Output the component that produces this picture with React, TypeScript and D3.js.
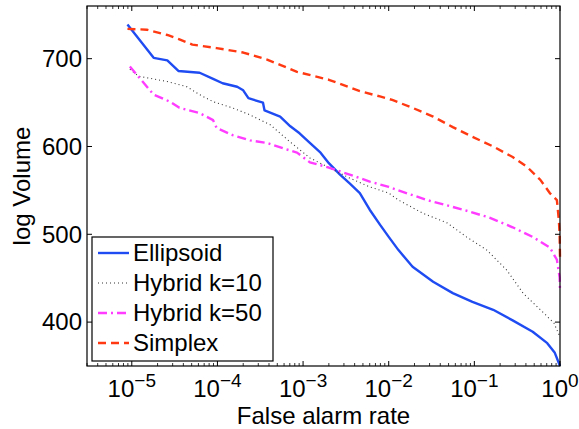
import * as d3 from 'd3';

const W = 579;
const H = 429;
const margin = { left: 87, right: 19, top: 6, bottom: 63 };

// false alarm rate vs log volume
const ellipsoidX = [8.9e-6, 1.8e-5, 2.6e-5, 3.5e-5, 6.2e-5, 8.9e-5, 1.15e-4, 1.7e-4, 2.0e-4, 2.3e-4, 3.4e-4, 3.55e-4, 5.4e-4, 7.1e-4, 9.1e-4, 1.2e-3, 1.6e-3, 2.0e-3, 2.7e-3, 3.5e-3, 4.6e-3, 6.0e-3, 7.9e-3, 0.010, 0.013, 0.019, 0.033, 0.056, 0.095, 0.166, 0.28, 0.48, 0.71, 0.87, 1];
const ellipsoidY = [739, 701, 698, 686, 684, 677, 672, 668, 664, 655, 650, 641, 634, 623, 615, 604, 593, 581, 568, 558, 547, 528, 511, 497, 482, 463, 446, 433, 423, 414, 402, 389, 376, 365, 350];

const hybrid10X = [9.5e-6, 1.2e-5, 2.6e-5, 4.4e-5, 6.2e-5, 8.9e-5, 1.5e-4, 2.4e-4, 4.1e-4, 7.1e-4, 1.2e-3, 2.0e-3, 3.5e-3, 6.0e-3, 0.010, 0.013, 0.025, 0.048, 0.081, 0.14, 0.24, 0.37, 0.59, 0.85, 1];
const hybrid10Y = [688, 680, 674, 668, 659, 651, 644, 636, 625, 605, 587, 576, 564, 554, 547, 539, 524, 513, 497, 482, 459, 433, 414, 399, 383];

const hybrid50X = [9.5e-6, 1.8e-5, 2.8e-5, 3.6e-5, 6.2e-5, 8.9e-5, 9.8e-5, 1.5e-4, 2.4e-4, 3.8e-4, 5.8e-4, 8.5e-4, 1.2e-3, 2.0e-3, 3.5e-3, 6.0e-3, 0.010, 0.013, 0.028, 0.074, 0.15, 0.28, 0.48, 0.76, 0.92, 0.99, 1];
const hybrid50Y = [691, 659, 651, 644, 638, 630, 621, 613, 607, 604, 598, 593, 582, 576, 568, 560, 554, 550, 539, 528, 519, 508, 497, 485, 471, 451, 436];

const simplexX = [8.9e-6, 1.5e-5, 2.6e-5, 3.6e-5, 5.1e-5, 9.8e-5, 2.0e-4, 3.8e-4, 5.4e-4, 8.5e-4, 2.0e-3, 4.6e-3, 7.9e-3, 0.011, 0.019, 0.033, 0.056, 0.095, 0.166, 0.28, 0.41, 0.59, 0.76, 0.92, 0.97, 0.99, 1];
const simplexY = [734, 733, 727, 722, 716, 712, 707, 699, 693, 685, 676, 663, 657, 653, 644, 634, 622, 611, 600, 588, 577, 562, 547, 539, 516, 500, 474];

const series = [
  { name: 'Ellipsoid', xs: ellipsoidX, ys: ellipsoidY, color: '#1f4cf2', width: 2.4, dash: null },
  { name: 'Hybrid k=10', xs: hybrid10X, ys: hybrid10Y, color: '#333333', width: 1.1, dash: '1,3' },
  { name: 'Hybrid k=50', xs: hybrid50X, ys: hybrid50Y, color: '#ff3cff', width: 2.4, dash: '9,4,2,4' },
  { name: 'Simplex', xs: simplexX, ys: simplexY, color: '#ff3a12', width: 2.4, dash: '8,5' },
];

const yTicks = [400, 500, 600, 700];
const xExponents = [-5, -4, -3, -2, -1, 0];

const FONT = '"Liberation Sans", Arial, Helvetica, sans-serif';

export default function App() {
  const x = d3.scaleLog().domain([3e-6, 1]).range([margin.left, W - margin.right]);
  const y = d3.scaleLinear().domain([350, 760]).range([H - margin.bottom, margin.top]);
  const [x0, x1] = x.range();
  const [y0, y1] = y.range(); // y0 bottom, y1 top

  const minorTicks: number[] = [];
  for (let e = -6; e < 0; e++) {
    for (let m = 2; m <= 9; m++) {
      const v = m * Math.pow(10, e);
      if (v >= 3e-6 && v <= 1) minorTicks.push(v);
    }
  }

  const line = d3.line<[number, number]>().x(d => x(d[0])).y(d => y(d[1]));

  return (
    <svg width={W} height={H} style={{ position: 'absolute', left: 0, top: 0, background: '#fff' }} fontFamily={FONT}>
      {series.map(s => (
        <path
          key={s.name}
          d={line(s.xs.map((v, i) => [v, s.ys[i]] as [number, number])) || ''}
          fill="none"
          stroke={s.color}
          strokeWidth={s.width}
          strokeDasharray={s.dash || undefined}
          strokeLinejoin="round"
        />
      ))}

      {/* axes box */}
      <rect x={x0} y={y1} width={x1 - x0} height={y0 - y1} fill="none" stroke="#000" strokeWidth={1.2} />

      {/* x ticks */}
      {minorTicks.map(v => (
        <g key={'m' + v} stroke="#000" strokeWidth={0.8}>
          <line x1={x(v)} x2={x(v)} y1={y0} y2={y0 - 3} />
          <line x1={x(v)} x2={x(v)} y1={y1} y2={y1 + 3} />
        </g>
      ))}
      {xExponents.map(e => {
        const px = x(Math.pow(10, e));
        return (
          <g key={'x' + e}>
            <line x1={px} x2={px} y1={y0} y2={y0 - 5} stroke="#000" />
            <line x1={px} x2={px} y1={y1} y2={y1 + 5} stroke="#000" />
            <text x={px} y={397} textAnchor="middle" fontSize={24} fill="#000">
              <tspan>10</tspan>
              <tspan fontSize={19} dy={-10}>{e === 0 ? '0' : '\u2212' + Math.abs(e)}</tspan>
            </text>
          </g>
        );
      })}

      {/* y ticks */}
      {yTicks.map(t => (
        <g key={'y' + t}>
          <line x1={x0} x2={x0 + 5} y1={y(t)} y2={y(t)} stroke="#000" />
          <line x1={x1} x2={x1 - 5} y1={y(t)} y2={y(t)} stroke="#000" />
          <text x={x0 - 5} y={y(t)} dy="0.35em" textAnchor="end" fontSize={24} fill="#000">{t}</text>
        </g>
      ))}

      <text x={(x0 + x1) / 2} y={424} textAnchor="middle" fontSize={24} fill="#000">False alarm rate</text>
      <text transform={`translate(30,${(y0 + y1) / 2}) rotate(-90)`} textAnchor="middle" fontSize={24} fill="#000">log Volume</text>

      {/* legend */}
      <g>
        <rect x={92} y={237} width={181} height={124} fill="#fff" stroke="#000" strokeWidth={1.2} />
        {series.map((s, i) => {
          const ly = 253 + i * 30;
          return (
            <g key={'l' + s.name}>
              <line x1={98} x2={129} y1={ly} y2={ly} stroke={s.color} strokeWidth={s.width} strokeDasharray={s.dash || undefined} />
              <text x={133} y={ly} dy="0.35em" fontSize={24} fill="#000">{s.name}</text>
            </g>
          );
        })}
      </g>
    </svg>
  );
}
